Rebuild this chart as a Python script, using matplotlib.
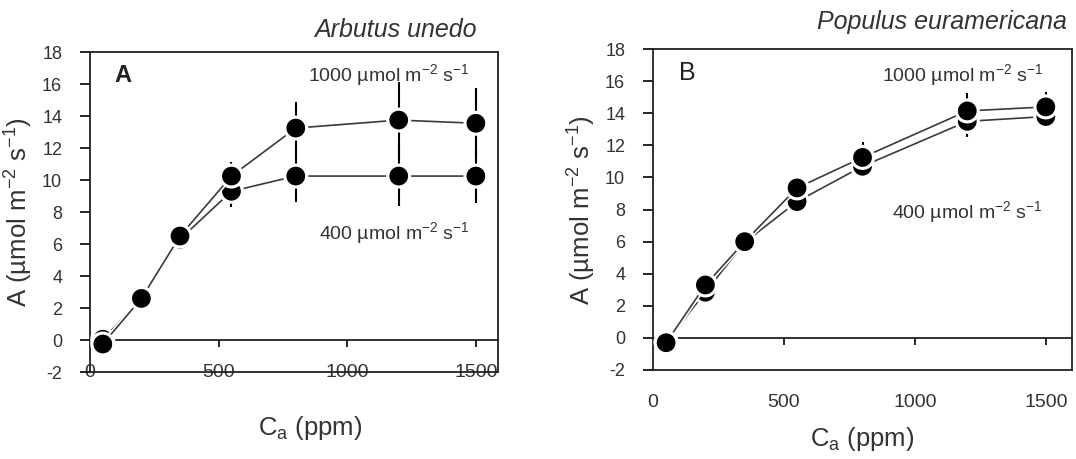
import numpy as np
import matplotlib
matplotlib.use("Agg")
import matplotlib.pyplot as plt
import matplotlib.patheffects as pe

plt.rcParams['font.family'] = ['Liberation Sans', 'DejaVu Sans']
plt.rcParams['mathtext.fontset'] = 'custom'
plt.rcParams['mathtext.rm'] = 'Liberation Sans'
plt.rcParams['mathtext.it'] = 'Liberation Sans:italic'
plt.rcParams['axes.unicode_minus'] = False

# CO2 levels (ppm) and net assimilation at two light levels
ca = [50, 200, 350, 550, 800, 1200, 1500]

arbutus_1000 = [-0.25, 2.6, 6.5, 10.25, 13.25, 13.75, 13.55]
arbutus_1000_err = [0, 0, 0.3, 0.85, 1.65, 2.35, 2.2]
arbutus_400 = [0.05, 2.55, 6.3, 9.3, 10.25, 10.25, 10.25]
arbutus_400_err = [0, 0, 0.3, 1.0, 1.6, 1.9, 1.7]

populus_1000 = [-0.3, 3.3, 6.0, 9.35, 11.25, 14.15, 14.4]
populus_1000_err = [0, 0, 0, 0.3, 0.95, 1.1, 0.9]
populus_400 = [-0.25, 2.85, 5.95, 8.5, 10.7, 13.5, 13.8]
populus_400_err = [0, 0, 0, 0.3, 0.4, 0.95, 0.4]

TXT = '#333333'
ylab = u'A (\u00b5mol m$^{-2}$ s$^{-1}$)'
xlab = r'C$_\mathregular{a}$ (ppm)'
hi_lab = u'1000 \u00b5mol m$^{-2}$ s$^{-1}$'
lo_lab = u'400 \u00b5mol m$^{-2}$ s$^{-1}$'

fig = plt.figure(figsize=(10.76, 4.59), dpi=100)
axA = fig.add_axes([0.0836, 0.1895, 0.379, 0.697])
axB = fig.add_axes([0.6069, 0.1939, 0.3894, 0.699])


def draw_panel(ax, y_hi, e_hi, y_lo, e_lo, xmax, tick_pad):
    halo = [pe.withStroke(linewidth=3.5, foreground='white')]
    for y, e in [(y_lo, e_lo), (y_hi, e_hi)]:
        ax.errorbar(ca, y, yerr=e, fmt='none', ecolor='black',
                    elinewidth=1.5, capsize=0, zorder=2)
        ax.plot(ca, y, color='#3a3a3a', lw=1.2, marker='o', ms=14.5,
                mfc='black', mec='white', mew=1.0, zorder=3,
                path_effects=halo)
    ax.set_xlim(0, xmax)
    ax.set_ylim(-2, 18)
    ax.set_yticks(np.arange(-2, 19, 2))
    ax.set_xticks([0, 500, 1000, 1500])
    ax.tick_params(axis='y', direction='out', length=7, width=1.2,
                   labelsize=13, labelcolor=TXT, pad=13)
    ax.tick_params(axis='x', length=0, labelsize=14, labelcolor=TXT,
                   pad=tick_pad)
    for s in ax.spines.values():
        s.set_linewidth(1.3)
        s.set_color('#222222')
    # zero line with its own ticks
    zero = ax.secondary_xaxis(0.1)
    zero.set_xticks([500, 1000, 1500])
    zero.tick_params(direction='out', length=5, width=1.2, labelbottom=False)
    zero.spines['bottom'].set_linewidth(1.3)
    zero.spines['bottom'].set_color('#222222')
    ax.set_ylabel(ylab, fontsize=18.5, color=TXT)
    ax.set_xlabel(xlab, fontsize=18.5, color=TXT)


draw_panel(axA, arbutus_1000, arbutus_1000_err, arbutus_400, arbutus_400_err,
           1585, -5.5)
draw_panel(axB, populus_1000, populus_1000_err, populus_400, populus_400_err,
           1600, 17)

axA.yaxis.set_label_coords(-0.135, 0.5)
axA.xaxis.set_label_coords(0.54, -0.131)
axB.yaxis.set_label_coords(-0.131, 0.5)
axB.xaxis.set_label_coords(0.50, -0.171)

axA.text(0.081, 0.928, 'A', transform=axA.transAxes, fontsize=17,
         fontweight='bold', color='#222222', ha='center', va='center')
axB.text(0.081, 0.925, 'B', transform=axB.transAxes, fontsize=18,
         color='#222222', ha='center', va='center')

axA.text(0.931, 0.928, hi_lab, transform=axA.transAxes, fontsize=14,
         color=TXT, ha='right', va='center')
axA.text(0.931, 0.434, lo_lab, transform=axA.transAxes, fontsize=14,
         color=TXT, ha='right', va='center')
axB.text(0.931, 0.919, hi_lab, transform=axB.transAxes, fontsize=14,
         color=TXT, ha='right', va='center')
axB.text(0.931, 0.492, lo_lab, transform=axB.transAxes, fontsize=14,
         color=TXT, ha='right', va='center')

fig.text(477 / 1076, 1 - 30 / 459, 'Arbutus unedo', fontsize=18,
         style='italic', color=TXT, ha='right', va='center')
fig.text(1067 / 1076, 1 - 22 / 459, 'Populus euramericana', fontsize=18,
         style='italic', color=TXT, ha='right', va='center')

fig.savefig('out.png', dpi=100)
